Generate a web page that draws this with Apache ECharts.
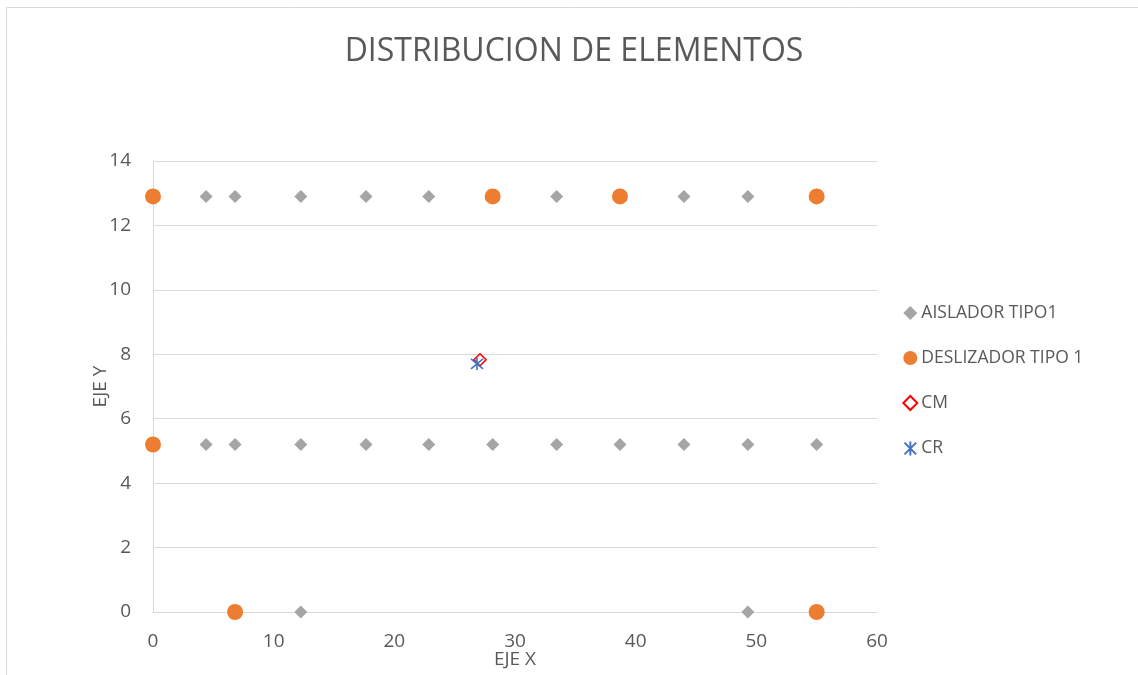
<!DOCTYPE html>
<html>
<head>
<meta charset="utf-8">
<script src="https://cdn.jsdelivr.net/npm/echarts@6/dist/echarts.min.js"></script>
<style>
  html, body { margin: 0; padding: 0; background: #fff; }
  #chart { width: 1138px; height: 675px; }
</style>
</head>
<body>
<div id="chart"></div>
<script>
// Element positions (x in one array, y in another), by row of supports
const rowY = [12.9, 5.2, 0];
const aisladorTopX = [4.4, 6.8, 12.25, 17.65, 22.85, 33.45, 44.0, 49.3];
const aisladorMidX = [4.4, 6.8, 12.25, 17.65, 22.85, 28.15, 33.45, 38.7, 44.0, 49.3, 55.0];
const aisladorBotX = [12.25, 49.3];
const deslizadorTopX = [0, 28.15, 38.7, 55.0];
const deslizadorMidX = [0];
const deslizadorBotX = [6.8, 55.0];
const cmPoint = [27.1, 7.83];
const crPoint = [26.85, 7.7];
const seriesNames = ['AISLADOR TIPO1', 'DESLIZADOR TIPO 1', 'CM', 'CR'];
const xTicks = [0, 10, 20, 30, 40, 50, 60];
const yTicks = [0, 2, 4, 6, 8, 10, 12, 14];

function rows(xsList) {
  const pts = [];
  xsList.forEach((xs, i) => xs.forEach(x => pts.push([x, rowY[i]])));
  return pts;
}

const FONT = 'Open Sans';
const TXT = '#595959';
const asterisk = 'path://M0,0L10,10M10,0L0,10M5,-1L5,11';

const chart = echarts.init(document.getElementById('chart'));
chart.setOption({
  animation: false,
  textStyle: { fontFamily: FONT },
  graphic: [{
    type: 'rect',
    shape: { x: 6.5, y: 7.5, width: 1200, height: 700 },
    style: { fill: 'none', stroke: '#d9d9d9', lineWidth: 1 },
    silent: true
  }],
  title: {
    text: 'DISTRIBUCION DE ELEMENTOS',
    left: 569,
    textAlign: 'center',
    top: 31,
    textStyle: { fontFamily: FONT, fontSize: 32, fontWeight: 'normal', color: TXT }
  },
  legend: {
    orient: 'vertical',
    left: 897,
    top: 299,
    itemGap: 27,
    itemWidth: 14,
    itemHeight: 14,
    textStyle: { fontFamily: FONT, fontSize: 17.5, color: TXT, padding: [0, 0, 0, -1] },
    data: seriesNames
  },
  grid: { left: 153, right: 261, top: 161, bottom: 63, outerBoundsMode: 'none', containLabel: false },
  xAxis: {
    type: 'value',
    min: xTicks[0], max: xTicks[xTicks.length - 1], interval: 10,
    name: 'EJE X',
    nameLocation: 'middle',
    nameGap: 38,
    nameMoveOverlap: false,
    nameTextStyle: { fontFamily: FONT, fontSize: 19, color: TXT },
    axisLine: { show: true, lineStyle: { color: '#d9d9d9' } },
    axisTick: { show: false },
    splitLine: { show: false },
    axisLabel: { fontFamily: FONT, fontSize: 19, color: TXT, margin: 20 }
  },
  yAxis: {
    type: 'value',
    min: yTicks[0], max: yTicks[yTicks.length - 1], interval: 2,
    name: 'EJE Y',
    nameLocation: 'middle',
    nameGap: 43,
    nameMoveOverlap: false,
    nameTextStyle: { fontFamily: FONT, fontSize: 19, color: TXT },
    axisLine: { show: true, lineStyle: { color: '#d9d9d9' } },
    axisTick: { show: false },
    splitLine: { show: true, lineStyle: { color: '#d9d9d9' } },
    axisLabel: { fontFamily: FONT, fontSize: 19, color: TXT, margin: 22 }
  },
  series: [
    {
      name: seriesNames[0], type: 'scatter', symbol: 'diamond', symbolSize: 13,
      itemStyle: { color: '#a5a5a5', opacity: 1 },
      data: rows([aisladorTopX, aisladorMidX, aisladorBotX]), z: 2
    },
    {
      name: seriesNames[1], type: 'scatter', symbol: 'circle', symbolSize: 16,
      itemStyle: { color: '#ed7d31', opacity: 1 },
      data: rows([deslizadorTopX, deslizadorMidX, deslizadorBotX]), z: 3
    },
    {
      name: seriesNames[2], type: 'scatter', symbol: 'diamond', symbolSize: 12,
      itemStyle: { color: '#ffffff', borderColor: '#ff0000', borderWidth: 1.6, opacity: 1 },
      data: [cmPoint], z: 4
    },
    {
      name: seriesNames[3], type: 'scatter', symbol: asterisk, symbolSize: 12,
      itemStyle: { color: 'none', borderColor: '#4472c4', borderWidth: 1.6, opacity: 1 },
      data: [crPoint], z: 5
    }
  ]
});
</script>
</body>
</html>
